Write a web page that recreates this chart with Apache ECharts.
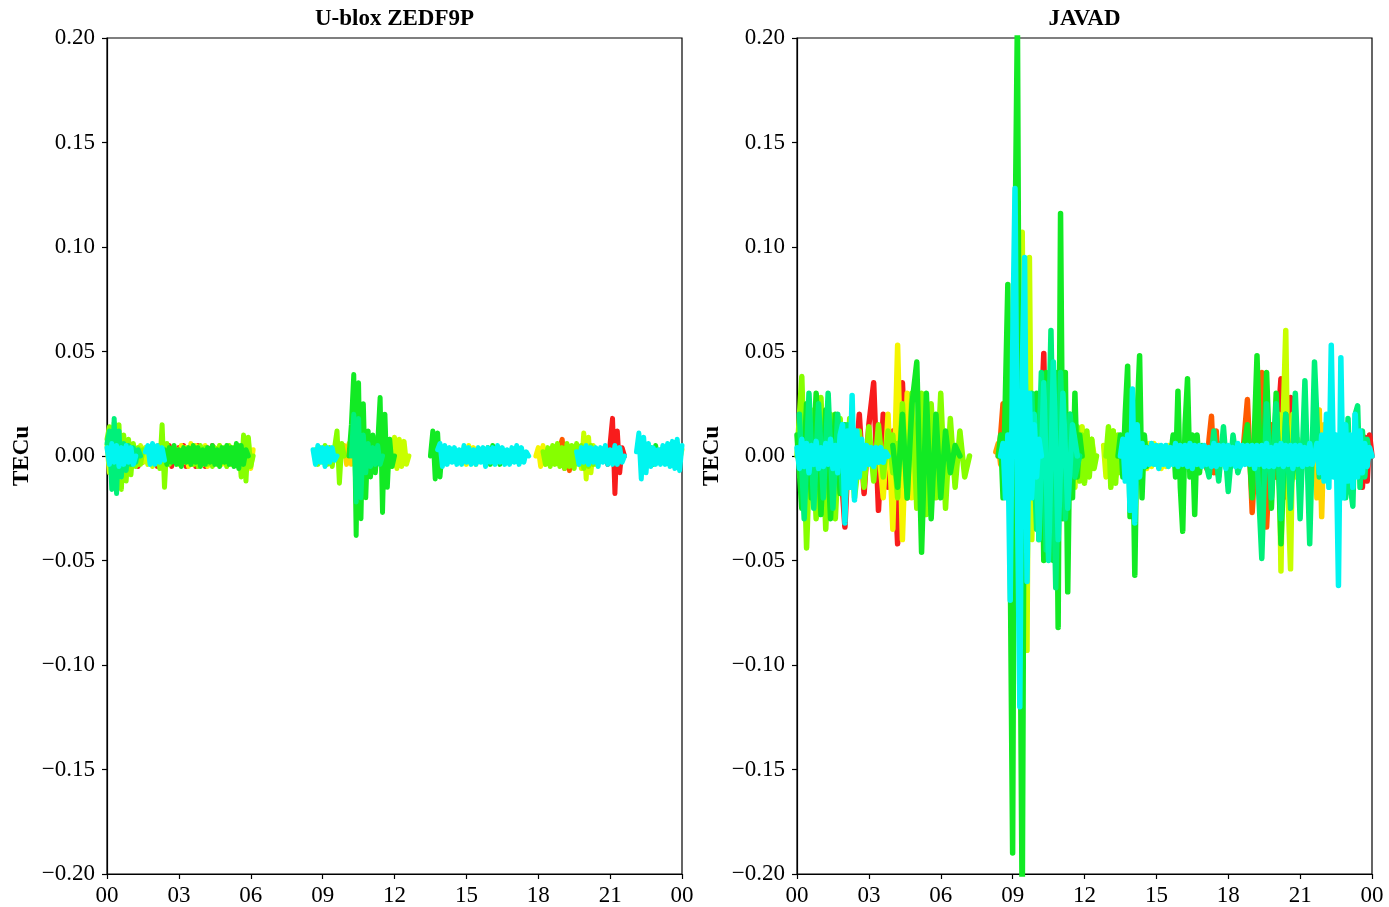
<!DOCTYPE html>
<html><head><meta charset="utf-8">
<script src="https://cdn.jsdelivr.net/npm/echarts/dist/echarts.min.js"></script>
<style>html,body{margin:0;padding:0;background:#fff}#c{width:1389px;height:907px}</style>
</head><body><div id="c"></div>
<script>
// ---- axis / tick data ----
const hourTicks = [0, 3, 6, 9, 12, 15, 18, 21, 24];
const yTicks = [-0.20, -0.15, -0.10, -0.05, 0.00, 0.05, 0.10, 0.15, 0.20];
const panelTitles = ['U-blox ZEDF9P', 'JAVAD'];
const yName = 'TECu';

// colour ramp (satellite order)
const colorOrder = ['red','orangered','orange','gold','yellow','ygreen','chart','green','sgreen','aqua','cyan'];
const colorHex = {red:'#f81c1c', orangered:'#ff5a00', orange:'#ffa000', gold:'#ffd400', yellow:'#f5f500',
  ygreen:'#c8ff00', chart:'#86ff00', green:'#12ea24', sgreen:'#00f07a', aqua:'#00f5b8', cyan:'#00f5f0'};

// ---- U-blox arcs: values (TECu) ----
const uRed1 = [.004,-.005,.005,-.004,.003,-.005,.004,-.003,.002,-.002,.003,-.004,.004,-.005,.005,-.004,.003,-.004,.005,-.005,.004,-.003,.004,-.004,.005,-.005,.003,-.004,.004,-.005,.005,-.004,.003,-.005,.004,-.004,.005,-.003,.002,0];
const uYellow1 = [.003,-.004,.005,-.003,.004,-.005,.006,-.004,.005,-.003,.004,-.004,.005,-.005,.003,-.004,.004,-.003,.005,-.004,.003,-.005,.004,-.003,.004,-.004,.003,-.003,.006,-.005,.007,-.006,.003];
const uYg1 = [.005,-.008,.008,-.006,.007,-.006,.005,-.004,.004,-.005,.004,-.003,.003,-.004,.005,-.003,.004,-.004,.003,-.005,.004,-.003,.004,-.004,.003,-.002,0];
const uChart1 = [.008,.014,-.012,.016,-.014,.015,-.016,.010,-.012,.008,-.009,.006,-.005,.004,-.004,.003];
const uChart2 = [0,.004,-.006,.015,-.015,.006,-.004,.003,0];
const uChart3 = [.003,-.004,.004,-.005,.005,-.003,.004,-.004,.003,-.005,.004,-.004,.005,-.003,.004,-.005,.005,-.004,.004,-.003,.005,-.010,.010,-.012,.009,-.005,0];
const uGreen1 = [.003,-.004,.004,-.003,.005,-.004,.003,-.005,.004,-.003,.004,-.004,.005,-.003,.004,-.005,.003,-.004,.004,-.003,.005,-.004,.003,-.005,.004,-.003,.005,-.004,.004,-.005,.006,-.006,.005,-.004,.003,0];
const uSg1 = [.006,.012,-.016,.018,-.018,.012,-.010,.006,-.007,.005,-.004,.004,-.003,.003,0];
const uCyan1 = [.004,-.004,.006,-.003,.005,-.005,.004,-.004,.005,-.003,.004,-.004,0];
const uCyan2 = [.002,.005,-.004,.006,-.004,.005,-.003,.004,-.002];
const uGold1 = [0,.005,-.004,.006,-.004,.003,0];
const uChart4 = [.003,-.004,.004,-.003,.005,-.004,.004,-.005,.004,.012,-.013,.006,0];
const uGreen2 = [0,.015,.039,-.038,.035,-.030,.025,-.020,.012,-.010,.010,-.008,.006,.028,-.027,.020,-.015,.008,-.005,0];
const uSg2 = [0,.020,-.022,.018,-.020,.010,-.008,.006,-.005,.004,-.004,.005,-.004,0];
const uYg2 = [0,.006,-.005,.009,-.006,.008,-.005,.009,-.006,.008,-.005,.007,-.004,0];
const uCyan3 = [.003,-.004,.005,-.003,.004,-.005,.004,-.003,.004,-.002,0];
const uGreen3 = [0,.012,-.011,.011,-.010,.004,0];
const uYellow2 = [0,.004,-.004,.005,-.003,.004,-.004,.003,0];
const uCyan4 = [.003,.006,-.005,.005,-.004,.004,-.003,.004,-.004,.003,-.004,.005,-.003,.004,-.004,.003,-.004,.004,-.003,.004,-.005,.004,-.003,.004,-.004,.005,-.003,.004,-.004,.003,-.004,.004,-.003,.005,-.004,.004,-.003,.002,0];
const uGreen4 = [0,.004,-.004,.005,-.003,.004,-.004,0];
const uYellow3 = [0,.004,-.005,.005,-.004,.003,0];
const uOrange1 = [0,.004,.008,-.006,.005,-.007,.004,-.003,0];
const uChart5 = [.002,-.004,.004,-.005,.005,-.004,.006,-.005,.004,-.006,.006,-.005,.005,-.006,.006,-.004,.005,-.006,.004,-.005,.005,-.004,.003,-.003,0];
const uYg3 = [0,.004,-.006,.011,-.011,.009,-.008,.005,-.004,0];
const uCyan5 = [.002,-.004,.004,-.003,.005,-.004,.004,-.003,.004,-.005,.004,-.003,.005,-.004,.003,-.004,.005,-.004,.004,-.003,0];
const uRed2 = [0,-.004,.006,.018,-.018,.012,-.008,.004,0];
const uCyan6 = [.002,.011,-.011,.009,-.008,.006,-.005,.004,-.004,.003,-.004,.005,-.004,.006,-.005,.007,-.006,.008,-.007,.005];
const uYellow4 = [0,.004,.006,-.002,.003];
const uGreen5 = [0,.004,-.004,.005,-.003,.003,0];

// ---- JAVAD arcs ----
const jChart1 = [0,.038,-.044,.022,-.030,.028,-.035,.020,-.030,.018,-.025,.018,-.020,0];
const jSg1 = [.020,-.030,.030,-.025,.025,-.020,.030,-.025,.020,-.018,.015,-.012,0];
const jGreen1 = [.010,-.025,.025,-.020,.030,-.028,.022,-.030,.020,-.018,.015,-.010,0];
const jCyan1 = [.004,-.006,.008,-.005,.006,-.008,.005,-.004,.007,-.006,.004,-.005,.006,-.004,.008,-.006,.005,-.008,.010,.015,-.032,.012,-.015,.029,-.021,.012,-.010,.008,-.006,.005,-.004,.004,-.005,.004,-.003,.004,-.003,.002,0];
const jChartB = [.005,-.012,.015,-.012,.015,-.015,.012,-.015,.014,-.012,.015,-.010,.012,-.008,.006,0];
const jRed1 = [0,-.034,.015,-.012,.020,-.018,.015,.035,-.026,.020,-.015,.012,-.042,.035,-.020,.015,-.010,0];
const jYellow1 = [.005,-.020,.020,-.035,.053,-.040,.030,-.020,.010,0];
const jGreen3 = [.005,-.015,.020,-.020,.025,.045,-.046,.030,-.030,.020,-.020,.012,-.008,.005,0];
const jChart2 = [.010,-.020,.025,-.020,.030,-.025,.030,-.028,.025,-.020,.030,-.025,.018,-.015,.012,-.010,0];
const jOrange1 = [.002,.006,-.004,.005,-.006,.003,0];
const jOrangeRed1 = [0,.010,.025,-.010,.015,-.005,0];
const jRed2 = [0,-.010,.020,.049,-.010,.010,0];
const jGreen4 = [0,.010,-.020,.030,.082,-.050,-.190,.100,.210,-.050,-.220,.060,-.030,.020,-.010,0];
const jCyan2 = [0,.006,-.020,.010,-.069,.050,.128,-.020,-.120,.040,.095,-.060,.030,-.020,.015,-.010,.008,0];
const jChart3 = [0,.030,.107,-.020,-.093,.095,-.040,.020,-.015,0];
const jGreen5 = [.010,-.020,.030,-.040,.030,-.050,.040,-.030,.035,-.050,.040,-.082,.116,-.030,.040,-.065,.020,-.020,.030,-.010,.010,0];
const jSg2 = [0,.030,-.035,.040,-.045,.060,-.063,.040,-.030,.020,-.010,0];
const jAqua1 = [0,.020,-.040,.035,-.050,.045,-.040,.030,-.025,.015,0];
const jYg1 = [.010,-.012,.015,-.015,.012,-.010,.014,-.012,.010,-.008,.008,0];
const jGreen6 = [0,.012,-.010,.014,-.012,.010,-.013,.012,-.010,.008,-.006,0];
const jYg2 = [.005,-.010,.010,-.008,.012,-.010,.008,0];
const jGreen7 = [0,.014,-.015,.012,-.013,.010,-.008,.006,-.005,.004,-.003];
const jGreen8 = [0,.010,-.010,.020,.043,-.029,.020,-.057,.020,.048,-.020,.010,-.005,.004,0];
const jCyan3 = [0,.008,-.012,.010,-.026,.032,-.032,.015,-.010,.006];
const jCyan4 = [.005,-.005,.004,-.004,.006,-.004,.005,-.006,.005,-.004,.005,-.005,.004,-.004,.006,-.005,.005,-.004,.005,-.005,
  .006,-.006,.005,-.004,.005,-.005,.005,-.004,.004,-.005,.006,-.005,.005,-.004,.005,-.006,.005,-.004,.004,-.005,
  .006,-.005,.005,-.004,.005,-.004,.005,-.006,.005,-.004,.005,-.005,.006,-.005,.004,-.005,.005,-.004,.006,-.005,
  .005,-.004,.005,-.006,.005,-.004,.005,-.005,.004,-.004,.006,-.004,0];
const jYellow2 = [.004,-.006,.006,-.005,.006,-.004,.005,-.006,.004,-.005,.005,-.004,.003];
const jGreen9 = [0,.010,-.010,.031,-.015,-.036,.015,.037,-.010,.010,-.028,.010,-.008,.005,0];
const jOrangeRed2 = [0,-.006,.008,.019,-.008,.012,-.010,.006,0];
const jSg3 = [0,-.010,.012,-.012,.014,-.017,.010,-.008,0];
const jOrangeRed3 = [0,.027,-.027,.015,.040,-.034,.015,-.010,0];
const jGreen10 = [0,.015,-.020,.048,-.029,.040,-.025,.030,-.042,.020,-.015,0];
const jSg4 = [0,-.049,.025,-.020,.025,-.030,.020,-.025,.030,-.030,.036,-.042,.045,-.010,0];
const jYg3 = [0,.015,.020,-.055,.020,.060,-.020,-.054,.020,-.010,.008,0];
const jRed3 = [0,-.010,.020,.037,-.020,.010,-.015,.028,-.010,.010,0];
const jGold1 = [0,.012,-.020,.022,-.029,.015,-.010,.005,0];
const jCyan5 = [0,.006,-.008,.010,-.012,.020,-.015,.053,-.010,.010,-.062,.047,-.020,.015,-.012,.010,-.015,.020,-.010,.012,-.008,.006,-.005,.004,0];
const jSg5 = [0,.015,-.020,.018,-.015,-.024,.020,.024,-.015,.012,-.010,.008,0];
const jRed4 = [0,.008,-.015,.009,-.012,.010,0];

// arc table: [colour, start hour, step hours, values]
const ubloxArcs = [
  ['red',0.8,0.1,uRed1],['yellow',2.9,0.1,uYellow1],['ygreen',0,0.1,uYg1],['chart',0,0.1,uChart1],
  ['chart',2.0,0.1,uChart2],['chart',3.5,0.1,uChart3],['green',2.4,0.1,uGreen1],['sgreen',0,0.1,uSg1],
  ['cyan',0,0.1,uCyan1],['cyan',1.6,0.1,uCyan2],
  ['gold',9.8,0.1,uGold1],['chart',8.7,0.1,uChart4],['green',10.1,0.1,uGreen2],['sgreen',10.2,0.1,uSg2],
  ['ygreen',11.3,0.1,uYg2],['cyan',8.6,0.1,uCyan3],
  ['green',13.5,0.1,uGreen3],['yellow',14.8,0.1,uYellow2],['cyan',13.8,0.1,uCyan4],['green',15.8,0.1,uGreen4],
  ['yellow',17.9,0.1,uYellow3],['orangered',18.8,0.1,uOrange1],['chart',18.2,0.1,uChart5],['ygreen',19.6,0.1,uYg3],
  ['cyan',19.6,0.1,uCyan5],['red',20.8,0.1,uRed2],['cyan',22.1,0.1,uCyan6],['yellow',23.6,0.1,uYellow4],['green',22.6,0.1,uGreen5]
];
const javadArcs = [
  ['chart',0,0.2,jChart1],['sgreen',0.1,0.2,jSg1],['green',0,0.2,jGreen1],['cyan',0,0.1,jCyan1],['chart',1.4,0.2,jChartB],
  ['red',1.8,0.2,jRed1],['yellow',3.4,0.2,jYellow1],['green',4.0,0.2,jGreen3],['chart',4.0,0.2,jChart2],
  ['orange',8.3,0.1,jOrange1],['orangered',8.4,0.1,jOrangeRed1],['red',10.0,0.1,jRed2],['green',8.4,0.1,jGreen4],
  ['cyan',8.5,0.1,jCyan2],['ygreen',9.2,0.1,jChart3],['green',9.8,0.1,jGreen5],['sgreen',9.6,0.2,jSg2],['aqua',9.7,0.2,jAqua1],
  ['ygreen',11.3,0.1,jYg1],['chart',11.4,0.1,jGreen6],
  ['ygreen',12.8,0.1,jYg2],['chart',12.9,0.1,jGreen7],['green',13.4,0.1,jGreen8],['cyan',13.5,0.1,jCyan3],
  ['cyan',14.4,0.1,jCyan4],['yellow',14.5,0.1,jYellow2],['green',15.6,0.1,jGreen9],['orangered',17.0,0.1,jOrangeRed2],
  ['sgreen',17.0,0.2,jSg3],['orangered',18.6,0.2,jOrangeRed3],['green',18.6,0.2,jGreen10],['sgreen',19.2,0.2,jSg4],
  ['ygreen',19.9,0.1,jYg3],['red',19.9,0.1,jRed3],['gold',21.5,0.1,jGold1],['cyan',21.6,0.1,jCyan5],
  ['sgreen',22.7,0.1,jSg5],['red',23.4,0.1,jRed4]
];

// ---- build ----
const FONT = '"Liberation Serif", "Times New Roman", serif';
const FS = 23;
function buildSeries(arcs, g, w) {
  return arcs.map(a => ({ a, r: colorOrder.indexOf(a[0]) }))
    .sort((p, q) => p.r - q.r)
    .map(({ a }) => ({
      type: 'line', xAxisIndex: g, yAxisIndex: g, symbol: 'none', silent: true, clip: true,
      data: a[3].map((v, i) => [+(a[1] + i * a[2]).toFixed(3), v]),
      lineStyle: { color: colorHex[a[0]], width: w, cap: 'round', join: 'round' }
    }));
}
const lefts = [107, 797];
const gridW = 575;
function xAx(g) {
  return { gridIndex: g, type: 'value', min: hourTicks[0], max: hourTicks[hourTicks.length-1], interval: 3,
    axisLine: { show: true, onZero: false, lineStyle: { color: '#000', width: 1.2 } },
    axisTick: { show: true, length: 5, lineStyle: { color: '#000', width: 1.2 } },
    splitLine: { show: false },
    axisLabel: { margin: 10, color: '#000', fontFamily: FONT, fontSize: FS,
      formatter: v => String(v % 24).padStart(2, '0') } };
}
function yAx(g) {
  return { gridIndex: g, type: 'value', min: yTicks[0], max: yTicks[yTicks.length-1], interval: 0.05,
    name: yName, nameLocation: 'middle', nameGap: 73, nameRotate: 90,
    nameTextStyle: { fontFamily: FONT, fontWeight: 'bold', fontSize: FS, color: '#000' },
    axisLine: { show: true, onZero: false, lineStyle: { color: '#000', width: 1.2 } },
    axisTick: { show: true, length: 5, lineStyle: { color: '#000', width: 1.2 } },
    splitLine: { show: false },
    axisLabel: { margin: 12, color: '#000', fontFamily: FONT, fontSize: FS,
      formatter: v => Math.abs(v) < 1e-9 ? '0.00' : (v < 0 ? '\u2212' : '') + Math.abs(v).toFixed(2) } };
}
const chart = echarts.init(document.getElementById('c'), null, { renderer: 'canvas' });
chart.setOption({
  animation: false,
  backgroundColor: '#fff',
  title: panelTitles.map((t, i) => ({ text: t, left: lefts[i] + gridW / 2, top: 8, padding: 0, textAlign: 'center',
    textStyle: { fontFamily: FONT, fontWeight: 'bold', fontSize: FS, color: '#000' } })),
  grid: lefts.map(l => ({ left: l, top: 38, width: gridW, height: 836, show: true, borderColor: '#000', borderWidth: 1.2, backgroundColor: 'transparent' })),
  xAxis: [xAx(0), xAx(1)],
  yAxis: [yAx(0), yAx(1)],
  series: [...buildSeries(ubloxArcs, 0, 5), ...buildSeries(javadArcs, 1, 5.5)]
});
</script></body></html>
